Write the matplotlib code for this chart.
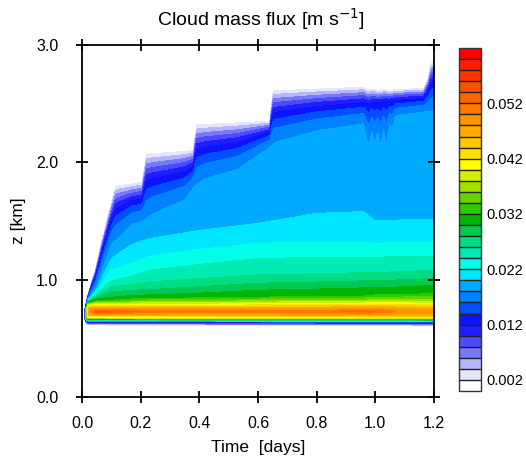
import numpy as np
import matplotlib
matplotlib.use("Agg")
import matplotlib.pyplot as plt

plt.rcParams['font.family'] = ['Liberation Sans', 'DejaVu Sans']

# ---------------- colour scale ----------------
levels = [round(0.002 * k, 3) for k in range(1, 31)]          # 0.002 ... 0.060
fill_colors = ['#FFFFFF', '#E6E6FA', '#B4B4FF', '#7878FF', '#4B4BFF', '#1E1EFF',
               '#0A14FF', '#0050FF', '#0082FF', '#00AAFF', '#00E6FF', '#00FFE6',
               '#00EBB4', '#00DC82', '#00C850', '#00B400', '#32C800', '#64D200',
               '#A0E100', '#D2F000', '#FFFF00', '#FFE100', '#FFC800', '#FFAA00',
               '#FF9600', '#FF7800', '#FF6400', '#FF5000', '#FF3200', '#FF1E00',
               '#FF0000']
cbar_ticks = [0.002, 0.012, 0.022, 0.032, 0.042, 0.052]
x_ticks = [0.0, 0.2, 0.4, 0.6, 0.8, 1.0, 1.2]
y_ticks = [0.0, 1.0, 2.0, 3.0]

# ---------------- cloud geometry ----------------
# cloud top (0.002 contour), km
t_top = [0.009, 0.010, 0.015, 0.020, 0.030, 0.045, 0.068, 0.091, 0.114, 0.125,
         0.205, 0.212, 0.220, 0.380, 0.385, 0.392, 0.640, 0.645, 0.652, 0.960,
         0.975, 0.990, 1.010, 1.030, 1.050, 1.070, 1.165, 1.180, 1.190, 1.200]
z_top = [0.700, 0.760, 0.820, 0.870, 0.960, 1.080, 1.340, 1.570, 1.790, 1.800,
         1.830, 1.950, 2.070, 2.100, 2.220, 2.320, 2.350, 2.480, 2.610, 2.640,
         2.615, 2.625, 2.610, 2.620, 2.610, 2.620, 2.630, 2.720, 2.840, 2.870]

# cloud base (lower 0.002 contour), km
t_base = [0.009, 0.010, 0.015, 0.020, 0.030, 1.200]
z_base = [0.700, 0.655, 0.625, 0.616, 0.614, 0.608]

# core maximum value and its height
t_peak = [0.009, 0.012, 0.018, 0.025, 0.050, 0.100, 0.200, 0.400, 0.600, 0.850,
          0.950, 1.030, 1.070, 1.200]
v_peak = [0.003, 0.020, 0.040, 0.049, 0.055, 0.054, 0.052, 0.051, 0.051, 0.052,
          0.0525, 0.052, 0.050, 0.049]
z_core = 0.727

# smooth height of the 0.018 contour (top of the broad light-blue region)
t_env = [0.009, 0.020, 0.050, 0.100, 0.170, 0.210, 0.240, 0.350, 0.385, 0.420,
         0.530, 0.600, 0.640, 0.660, 0.800, 0.960, 1.070, 1.200]
z_env = [0.700, 0.830, 0.950, 1.300, 1.470, 1.500, 1.560, 1.680, 1.800, 1.860,
         1.940, 2.060, 2.130, 2.170, 2.270, 2.330, 2.400, 2.440]
# downward spikes of the 0.018 contour (km below the smooth height)
t_spk = [0.960, 0.970, 0.978, 0.988, 0.998, 1.008, 1.018, 1.028, 1.038, 1.048, 1.058, 1.068]
d_spk = [0.000, 0.120, 0.200, 0.080, 0.190, 0.100, 0.220, 0.090, 0.230, 0.060, 0.100, 0.000]

# heights of the lower contours above the core, km
t_lev = [0.009, 0.020, 0.050, 0.100, 0.170, 0.230, 0.400, 0.600, 0.800, 0.960,
         1.000, 1.100, 1.200]
z_047 = [0.701, 0.755, 0.760, 0.760, 0.760, 0.760, 0.760, 0.760, 0.760, 0.765, 0.765, 0.760, 0.755]
z_041 = [0.702, 0.775, 0.785, 0.785, 0.785, 0.785, 0.785, 0.790, 0.795, 0.795, 0.795, 0.795, 0.790]
z_036 = [0.703, 0.790, 0.805, 0.805, 0.810, 0.815, 0.815, 0.820, 0.825, 0.825, 0.830, 0.830, 0.830]
z_032 = [0.704, 0.800, 0.820, 0.825, 0.835, 0.840, 0.845, 0.850, 0.860, 0.860, 0.870, 0.875, 0.880]
z_030 = [0.705, 0.805, 0.835, 0.850, 0.865, 0.870, 0.885, 0.910, 0.920, 0.930, 0.930, 0.940, 0.950]
z_028 = [0.706, 0.810, 0.850, 0.895, 0.910, 0.915, 0.940, 0.970, 0.980, 0.990, 0.990, 1.000, 1.010]
z_026 = [0.707, 0.815, 0.865, 0.940, 0.960, 0.980, 1.010, 1.040, 1.050, 1.060, 1.060, 1.070, 1.080]
z_024 = [0.708, 0.818, 0.880, 0.990, 1.030, 1.080, 1.130, 1.180, 1.190, 1.190, 1.190, 1.200, 1.200]
z_022 = [0.709, 0.821, 0.900, 1.080, 1.140, 1.200, 1.260, 1.310, 1.320, 1.320, 1.310, 1.320, 1.320]
z_020 = [0.710, 0.825, 0.920, 1.180, 1.300, 1.350, 1.420, 1.480, 1.565, 1.580, 1.500, 1.510, 1.510]

upper_vals = [0.047, 0.041, 0.036, 0.032, 0.030, 0.028, 0.026, 0.024, 0.022, 0.020]
upper_rows = [z_047, z_041, z_036, z_032, z_030, z_028, z_026, z_024, z_022, z_020]

# values below the core (fraction of base->core distance)
low_vals = [0.002, 0.012, 0.026, 0.040, 0.047]
low_frac = [0.0, 0.22, 0.38, 0.55, 0.78]
# values between the 0.018 contour and the top (fraction of that distance)
top_vals = [0.016, 0.014, 0.012, 0.010, 0.008, 0.006, 0.004]
top_frac = [0.28, 0.45, 0.58, 0.68, 0.77, 0.85, 0.93]
spk_share = [0.5, 0.2, 0.0, 0.0, 0.0, 0.0, 0.0]

# ---------------- build the field ----------------
t = np.linspace(0.0, 1.2, 1201)
z = np.linspace(0.0, 3.0, 1501)
F = np.zeros((z.size, t.size))
for j, tj in enumerate(t):
    if tj < t_top[0]:
        continue
    top = np.interp(tj, t_top, z_top)
    base = np.interp(tj, t_base, z_base)
    pk = np.interp(tj, t_peak, v_peak)
    core = min(max(z_core, base), top)
    zk = [base - 0.008]
    vk = [0.0]
    for f, v in zip(low_frac, low_vals):
        zk.append(base + f * (core - base))
        vk.append(min(v, pk) if v > 0.002 else v)
    zk.append(core)
    vk.append(pk)
    for v, row in zip(upper_vals, upper_rows):
        zk.append(min(max(np.interp(tj, t_lev, row), core), top))
        vk.append(min(v, pk))
    env = min(max(np.interp(tj, t_env, z_env), core), top)
    dip = np.interp(tj, t_spk, d_spk, left=0.0, right=0.0)
    zk.append(env - dip)
    vk.append(min(0.018, pk))
    for f, v, s in zip(top_frac, top_vals, spk_share):
        zk.append(env + f * (top - env) - s * dip)
        vk.append(min(v, pk))
    zk.append(top)
    vk.append(0.002)
    zk.append(top + 0.012)
    vk.append(0.0)
    zk = np.maximum.accumulate(np.array(zk)) + np.arange(len(zk)) * 1e-6
    F[:, j] = np.interp(z, zk, np.array(vk), left=0.0, right=0.0)

# ---------------- figure ----------------
fig = plt.figure(figsize=(5.26, 4.62), dpi=100)
ax = fig.add_axes([82 / 526, 65 / 462, 352 / 526, 352 / 462])
bounds = [-1.0] + levels + [1.0]
cs = ax.contourf(t, z, F, levels=bounds, colors=fill_colors)

ax.set_xlim(0, 1.2)
ax.set_ylim(0, 3.0)
ax.set_xticks(x_ticks)
ax.set_xticklabels([f"{v:.1f}" for v in x_ticks])
ax.set_yticks(y_ticks)
ax.set_yticklabels([f"{v:.1f}" for v in y_ticks])
ax.tick_params(direction='inout', length=9, width=1.3, labelsize=11.5,
               top=True, right=True)
ax.tick_params(axis='x', pad=9)
ax.tick_params(axis='y', pad=12.5)
for s in ax.spines.values():
    s.set_linewidth(1.3)
ax.set_xlabel("Time  [days]", fontsize=12.5, labelpad=7)
ax.set_ylabel("z [km]", fontsize=12.5, labelpad=7)
fig.text(261 / 526, 436 / 462, "Cloud mass flux [m s$^{-1}$]", fontsize=14,
         ha='center', va='baseline')

cax = fig.add_axes([459 / 526, 71 / 462, 22 / 526, 343 / 462])
cb = fig.colorbar(cs, cax=cax, ticks=cbar_ticks, drawedges=True)
cb.ax.set_yticklabels([f"{v:.3f}" for v in cbar_ticks])
cb.ax.tick_params(length=0, labelsize=10.5, pad=4)
cb.outline.set_linewidth(1.0)
cb.outline.set_edgecolor('#333333')
cb.dividers.set_color('#222222')
cb.dividers.set_linewidth(1.0)

fig.savefig("out.png", dpi=100)
